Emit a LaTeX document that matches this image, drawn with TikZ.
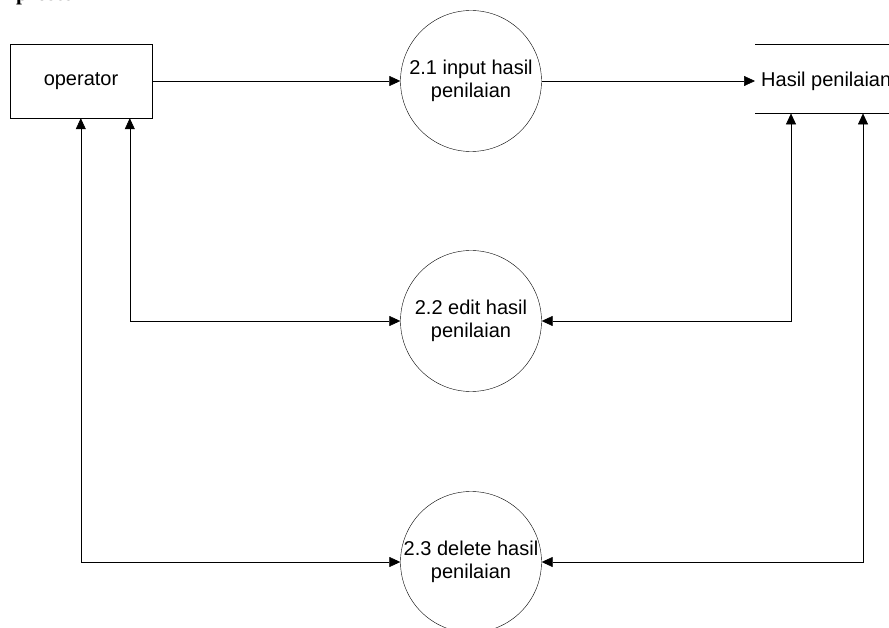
\documentclass[tikz,border=0pt]{standalone}
\usepackage{fontspec}
\setmainfont{Liberation Sans}
\newfontfamily\headserif{Liberation Serif}
\usetikzlibrary{arrows.meta,calc}
\begin{document}
\begin{tikzpicture}[x=1pt,y=-1pt,
  every node/.style={font=\fontsize{20}{23}\selectfont},
  proc/.style={draw,circle,minimum size=141pt,inner sep=0pt,align=center},
  ent/.style={draw,rectangle,minimum width=142pt,minimum height=74pt,inner sep=0pt},
  flow/.style={draw,line width=0.6pt,-{Triangle[length=11pt,width=10pt]}},
  flow2/.style={draw,line width=0.6pt,{Triangle[length=11pt,width=10pt]}-{Triangle[length=11pt,width=10pt]}},
  storeline/.style={draw,line width=0.6pt}]
\useasboundingbox (0,0) rectangle (889,628);
\begin{scope}
\clip (0,0) rectangle (889,628);
\node[anchor=base west,inner sep=0pt,font=\headserif\bfseries\fontsize{21}{24}\selectfont] (title) at (16,1) {proses};
\node[ent] (op) at (81,81) {operator};
\node[proc] (p1) at (471,81) {2.1 input hasil\\penilaian};
\node[proc] (p2) at (471,321) {2.2 edit hasil\\penilaian};
\node[proc] (p3) at (471,562) {2.3 delete hasil\\penilaian};
\node[anchor=north west,minimum width=140pt,minimum height=68.5pt,inner sep=0pt] (store) at (755,44.5) {};
\node[anchor=west,inner sep=0pt] (storetxt) at (761,81) {Hasil penilaian};
\draw[storeline] (store.north west) -- (store.north east);
\draw[storeline] (store.south west) -- (store.south east);
\coordinate (opA) at ($(op.south west)+(71,0)$);
\coordinate (opB) at ($(op.south west)+(120,0)$);
\coordinate (stA) at ($(store.south west)+(36,0)$);
\coordinate (stB) at ($(store.south west)+(108,0)$);
\path[flow] (op.east) -- (p1.west);
\path[flow] (p1.east) -- (p1.east -| store.west);
\path[flow2] (opB) |- (p2.west);
\path[flow2] (opA) |- (p3.west);
\path[flow2] (stA) |- (p2.east);
\path[flow2] (stB) |- (p3.east);
\end{scope}
\end{tikzpicture}
\end{document}
